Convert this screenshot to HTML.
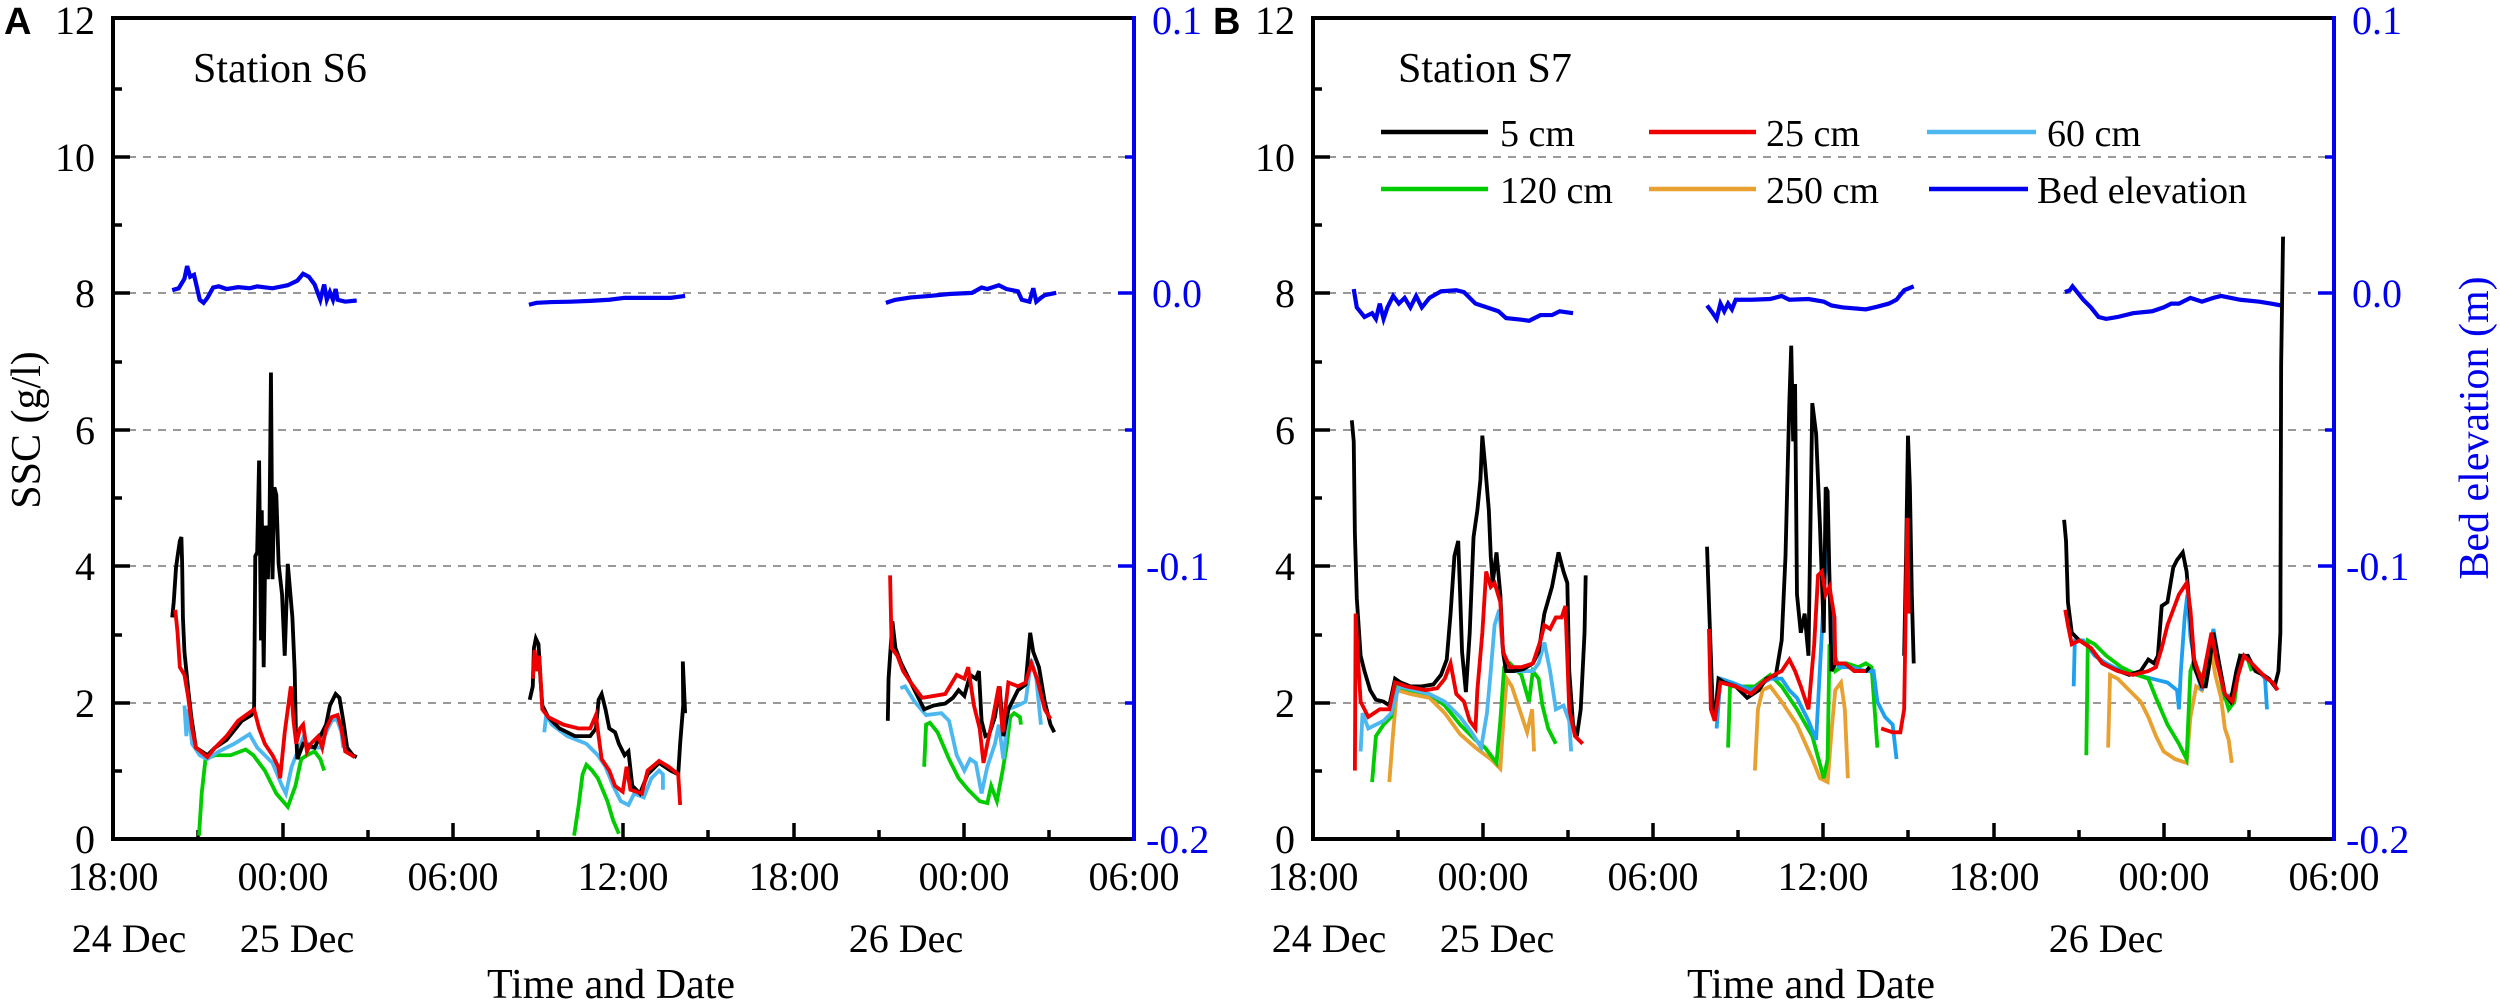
<!DOCTYPE html>
<html><head><meta charset="utf-8"><style>
html,body{margin:0;padding:0;background:#fff;}
svg{display:block;}
svg text{font-family:"Liberation Serif",serif !important;}
svg text.sans{font-family:"Liberation Sans",sans-serif !important;}
</style></head><body>
<svg width="2500" height="1001" viewBox="0 0 2500 1001" xmlns="http://www.w3.org/2000/svg" font-family="Liberation Serif, serif">
<defs>
<g id="frameTicks">
 <g stroke="#999" stroke-width="2" stroke-dasharray="8,7">
  <line x1="113" y1="157" x2="1134" y2="157"/>
  <line x1="113" y1="293" x2="1134" y2="293"/>
  <line x1="113" y1="430" x2="1134" y2="430"/>
  <line x1="113" y1="566" x2="1134" y2="566"/>
  <line x1="113" y1="703" x2="1134" y2="703"/>
 </g>
 <g stroke="#000" stroke-width="3.5">
  <line x1="113" y1="157" x2="130" y2="157"/><line x1="113" y1="293" x2="130" y2="293"/>
  <line x1="113" y1="430" x2="130" y2="430"/><line x1="113" y1="566" x2="130" y2="566"/>
  <line x1="113" y1="703" x2="130" y2="703"/>
  <line x1="113" y1="89" x2="122" y2="89"/><line x1="113" y1="225" x2="122" y2="225"/>
  <line x1="113" y1="362" x2="122" y2="362"/><line x1="113" y1="498" x2="122" y2="498"/>
  <line x1="113" y1="635" x2="122" y2="635"/><line x1="113" y1="771" x2="122" y2="771"/>
  <line x1="283" y1="839" x2="283" y2="823"/><line x1="453" y1="839" x2="453" y2="823"/>
  <line x1="623" y1="839" x2="623" y2="823"/><line x1="794" y1="839" x2="794" y2="823"/>
  <line x1="964" y1="839" x2="964" y2="823"/>
  <line x1="198" y1="839" x2="198" y2="830"/><line x1="368" y1="839" x2="368" y2="830"/>
  <line x1="538" y1="839" x2="538" y2="830"/><line x1="708" y1="839" x2="708" y2="830"/>
  <line x1="879" y1="839" x2="879" y2="830"/><line x1="1049" y1="839" x2="1049" y2="830"/>
 </g>
 <g stroke="#0000ee" stroke-width="3.5">
  <line x1="1134" y1="293" x2="1118" y2="293"/><line x1="1134" y1="566" x2="1118" y2="566"/>
  <line x1="1134" y1="157" x2="1125" y2="157"/><line x1="1134" y1="430" x2="1125" y2="430"/><line x1="1134" y1="703" x2="1125" y2="703"/>
 </g>
 <line x1="111" y1="18" x2="1134" y2="18" stroke="#000" stroke-width="4"/>
 <line x1="113" y1="16" x2="113" y2="841" stroke="#000" stroke-width="4"/>
 <line x1="111" y1="839" x2="1134" y2="839" stroke="#000" stroke-width="4"/>
 <line x1="1134" y1="16" x2="1134" y2="841" stroke="#0000ee" stroke-width="4"/>
 <g font-size="40" text-anchor="end" fill="#000" font-family="Liberation Serif, serif">
  <text x="95" y="34">12</text><text x="95" y="171">10</text><text x="95" y="307">8</text>
  <text x="95" y="444">6</text><text x="95" y="580">4</text><text x="95" y="717">2</text><text x="95" y="853">0</text>
 </g>
 <g font-size="40" fill="#0000ee" font-family="Liberation Serif, serif">
  <text x="1152" y="34">0.1</text><text x="1152" y="307">0.0</text>
  <text x="1146" y="580">-0.1</text><text x="1146" y="853">-0.2</text>
 </g>
 <g font-size="40" text-anchor="middle" fill="#000" font-family="Liberation Serif, serif">
  <text x="113" y="890">18:00</text><text x="283" y="890">00:00</text><text x="453" y="890">06:00</text>
  <text x="623" y="890">12:00</text><text x="794" y="890">18:00</text><text x="964" y="890">00:00</text>
  <text x="1134" y="890">06:00</text>
  <text x="129" y="952">24 Dec</text><text x="297" y="952">25 Dec</text><text x="906" y="952">26 Dec</text>
  <text x="611" y="998" font-size="42">Time and Date</text>
 </g>
</g>
</defs>

<use href="#frameTicks"/>
<text class="sans" x="4" y="34" font-family="Liberation Sans, sans-serif" font-weight="bold" font-size="38">A</text>
<text x="193" y="82" font-size="42" font-family="Liberation Serif, serif">Station S6</text>
<text transform="translate(40,430) rotate(-90)" font-size="42" text-anchor="middle" font-family="Liberation Serif, serif">SSC (g/l)</text>

<g fill="none" stroke-linejoin="miter" transform="translate(150,250) scale(0.38277)">
 <polyline stroke="#0000ee" stroke-width="11" points="58,105 75,100 90,75 97,42 105,70 115,65 122,95 130,130 140,138 150,125 165,98 180,95 200,102 230,97 260,100 280,95 320,100 360,92 385,80 400,62 415,70 430,90 445,130 455,90 462,130 470,110 478,130 485,102 490,130 510,135 540,132"/>
 <polyline stroke="#0000ee" stroke-width="11" points="990,143 1010,138 1050,136 1100,135 1150,133 1200,130 1240,125 1300,125 1360,125 1398,120"/>
 <polyline stroke="#00cc00" stroke-width="10" points="128,1530 135,1420 145,1330 170,1320 210,1320 250,1305 270,1320 300,1360 330,1420 360,1455 380,1400 395,1330 410,1320 430,1310 445,1330 455,1360"/>
 <polyline stroke="#00cc00" stroke-width="10" points="1108,1530 1120,1450 1130,1370 1140,1345 1155,1360 1170,1380 1195,1440 1210,1490 1225,1525"/>
 <polyline stroke="#4db8f0" stroke-width="10" points="90,1190 95,1270 100,1200 110,1290 130,1320 150,1330 180,1310 220,1290 260,1265 280,1300 320,1340 345,1400 355,1420 370,1350 390,1300 400,1275 420,1300 445,1300 460,1260 475,1230 488,1225 500,1260 505,1300"/>
 <polyline stroke="#4db8f0" stroke-width="10" points="1030,1260 1035,1215 1050,1240 1090,1270 1140,1290 1170,1320 1190,1350 1210,1400 1230,1440 1250,1450 1265,1420 1290,1430 1310,1380 1330,1360 1340,1370 1340,1410"/>
 <polyline stroke="#000" stroke-width="10" points="58,960 62,920 68,830 72,800 78,760 82,750 84,820 86,960 90,1050 100,1150 108,1220 120,1300 150,1320 170,1300 200,1280 240,1230 265,1215 272,1195 275,800 280,790 285,550 290,1020 292,680 297,1090 302,720 308,860 312,740 316,320 320,860 325,620 330,640 336,820 345,900 352,1060 360,820 372,960 378,1100 381,1250 385,1330 400,1290 430,1300 460,1240 470,1190 485,1160 495,1170 505,1230 515,1300 530,1320 540,1325"/>
 <polyline stroke="#000" stroke-width="10" points="992,1175 1000,1140 1003,1040 1008,1015 1015,1030 1020,1120 1025,1190 1040,1220 1070,1250 1110,1270 1150,1270 1165,1250 1172,1175 1180,1160 1190,1200 1200,1250 1215,1260 1225,1290 1240,1320 1250,1310 1260,1400 1280,1420 1300,1370 1330,1340 1360,1360 1380,1370 1385,1290 1393,1190 1392,1075 1398,1210"/>
 <polyline stroke="#ee0000" stroke-width="10" points="66,940 72,1000 78,1090 90,1110 100,1170 110,1250 120,1300 150,1325 170,1300 200,1270 230,1230 265,1205 272,1200 285,1250 300,1290 320,1320 335,1350 340,1380 352,1260 368,1140 375,1230 382,1290 392,1250 400,1240 410,1310 420,1290 440,1270 450,1300 460,1250 475,1220 490,1215 500,1250 510,1310 535,1325"/>
 <polyline stroke="#ee0000" stroke-width="10" points="1000,1120 1005,1045 1010,1100 1017,1060 1025,1200 1040,1220 1080,1240 1120,1250 1150,1250 1165,1215 1172,1270 1180,1330 1200,1360 1215,1400 1235,1415 1245,1350 1255,1410 1285,1420 1300,1360 1330,1335 1355,1350 1380,1370 1385,1450"/>
</g>
<g fill="none" stroke-linejoin="miter" transform="translate(750,250) scale(0.38277)">
 <polyline stroke="#0000ee" stroke-width="11" points="355,138 380,130 420,124 470,120 520,115 580,112 605,98 620,102 650,92 670,102 700,108 710,130 730,135 740,100 748,135 760,125 770,118 800,112"/>
 <polyline stroke="#00cc00" stroke-width="10" points="455,1350 460,1240 470,1235 490,1260 520,1330 545,1380 570,1410 600,1440 620,1445 630,1400 645,1440 660,1360 670,1300 680,1220 690,1210 705,1220 708,1240"/>
 <polyline stroke="#4db8f0" stroke-width="10" points="393,1145 405,1140 430,1180 460,1215 500,1210 520,1230 540,1320 560,1360 575,1330 590,1340 605,1420 620,1350 640,1290 650,1240 662,1330 675,1200 700,1190 720,1180 735,1070 748,1120 760,1240"/>
 <polyline stroke="#000" stroke-width="10" points="360,1230 362,1120 372,970 380,1040 395,1080 410,1110 430,1150 455,1200 480,1190 510,1185 530,1170 545,1150 560,1165 575,1110 590,1120 598,1100 605,1230 615,1270 625,1265 640,1220 652,1140 662,1270 675,1200 700,1150 720,1135 732,1000 740,1050 755,1090 770,1180 785,1240 795,1260"/>
 <polyline stroke="#ee0000" stroke-width="10" points="366,850 370,1040 385,1060 400,1100 420,1130 450,1170 480,1165 510,1160 540,1110 560,1120 570,1090 585,1190 600,1250 610,1340 620,1290 635,1220 650,1140 660,1260 675,1130 700,1140 720,1130 735,1080 750,1120 770,1200 785,1225"/>
</g>

<use href="#frameTicks" transform="translate(1200,0)"/>
<text class="sans" x="1213" y="34" font-family="Liberation Sans, sans-serif" font-weight="bold" font-size="38">B</text>
<text x="1398" y="82" font-size="42" font-family="Liberation Serif, serif">Station S7</text>
<text transform="translate(2488,428) rotate(-90)" font-size="42" text-anchor="middle" fill="#0000ee" font-family="Liberation Serif, serif">Bed elevation (m)</text>
<g stroke-width="4.5">
 <line x1="1381" y1="132" x2="1488" y2="132" stroke="#000"/>
 <line x1="1649" y1="132" x2="1756" y2="132" stroke="#ee0000"/>
 <line x1="1927" y1="132" x2="2036" y2="132" stroke="#4db8f0"/>
 <line x1="1381" y1="189" x2="1488" y2="189" stroke="#00cc00"/>
 <line x1="1649" y1="189" x2="1756" y2="189" stroke="#e8a030"/>
 <line x1="1929" y1="189" x2="2028" y2="189" stroke="#0000ee"/>
</g>
<g font-size="38" fill="#000" font-family="Liberation Serif, serif">
 <text x="1500" y="146">5 cm</text><text x="1766" y="146">25 cm</text><text x="2047" y="146">60 cm</text>
 <text x="1500" y="203">120 cm</text><text x="1766" y="203">250 cm</text><text x="2037" y="203">Bed elevation</text>
</g>

<g fill="none" stroke-linejoin="miter" transform="translate(1330,250) scale(0.38277)">
 <polyline stroke="#0000ee" stroke-width="11" points="62,102 70,150 90,175 110,165 120,180 130,140 140,180 150,150 165,120 180,140 195,125 210,150 225,120 240,150 260,125 290,108 330,105 350,110 380,140 410,150 440,160 460,178 500,182 520,185 550,170 580,170 600,160 635,165"/>
 <polyline stroke="#0000ee" stroke-width="11" points="985,145 1000,165 1010,180 1020,140 1030,160 1040,140 1050,155 1060,130 1100,130 1150,128 1180,120 1200,130 1250,128 1290,135 1310,145 1340,150 1400,155 1430,148 1460,140 1480,130 1500,105 1525,95"/>
 <polyline stroke="#e8a030" stroke-width="10" points="155,1390 165,1260 175,1150 210,1160 260,1170 300,1210 340,1265 380,1300 420,1330 445,1355 455,1200 462,1120 475,1140 495,1200 515,1260 528,1200 533,1310"/>
 <polyline stroke="#e8a030" stroke-width="10" points="1110,1360 1118,1200 1130,1150 1150,1140 1180,1180 1220,1240 1260,1330 1280,1380 1300,1390 1310,1260 1320,1150 1335,1130 1345,1200 1353,1380"/>
 <polyline stroke="#00cc00" stroke-width="10" points="110,1390 120,1270 140,1240 160,1220 175,1140 210,1150 260,1160 300,1190 340,1240 380,1280 405,1300 435,1340 445,1230 455,1090 470,1080 500,1110 520,1180 530,1100 545,1120 555,1190 570,1250 590,1290"/>
 <polyline stroke="#00cc00" stroke-width="10" points="1040,1300 1045,1140 1080,1140 1110,1140 1150,1110 1180,1140 1220,1200 1260,1270 1290,1380 1300,1330 1305,1030 1320,1100 1350,1080 1380,1090 1400,1080 1415,1090 1430,1300"/>
 <polyline stroke="#4db8f0" stroke-width="10" points="80,1310 85,1210 100,1250 120,1240 140,1230 160,1210 180,1140 220,1150 260,1160 300,1180 340,1220 370,1260 395,1300 410,1210 420,1100 430,980 442,940 450,1030 462,1090 480,1100 505,1100 530,1100 545,1080 560,1025 575,1100 590,1200 610,1190 625,1230 630,1310"/>
 <polyline stroke="#1ea0f0" stroke-width="10" points="1010,1250 1020,1120 1050,1130 1100,1150 1150,1120 1180,1120 1200,1150 1220,1170 1250,1230 1270,1280 1285,1000 1298,750 1305,860 1315,1050 1330,1090 1360,1090 1400,1100 1420,1100 1430,1180 1450,1220 1470,1240 1480,1330"/>
 <polyline stroke="#000" stroke-width="10" points="57,445 62,500 65,740 70,910 80,1060 90,1100 105,1150 120,1175 140,1180 155,1190 170,1120 185,1130 210,1140 240,1140 270,1135 290,1110 305,1070 315,950 325,800 335,760 340,900 345,1050 355,1155 365,1000 375,750 385,680 393,600 398,485 405,560 415,680 420,800 425,870 435,790 445,900 452,1050 460,1100 480,1100 505,1095 530,1080 545,1050 560,950 580,880 597,790 610,840 620,870 625,1100 635,1240 645,1270 655,1200 665,1000 668,850"/>
 <polyline stroke="#ee0000" stroke-width="10" points="65,1360 67,950 72,1050 80,1180 100,1220 130,1200 155,1200 170,1130 200,1140 250,1150 280,1145 300,1120 315,1080 330,1160 350,1180 365,1230 380,1250 385,1150 398,1000 408,840 420,880 430,870 445,920 452,1050 470,1090 500,1090 530,1080 550,1020 560,980 575,990 590,960 605,960 615,930 625,1200 640,1270 660,1290"/>
 <polyline stroke="#000" stroke-width="10" points="985,775 990,920 1000,1200 1005,1230 1015,1120 1030,1130 1060,1140 1090,1170 1120,1150 1140,1120 1165,1110 1180,1020 1190,800 1200,400 1205,250 1210,500 1215,350 1220,900 1230,1000 1240,950 1250,1060 1260,400 1270,480 1280,720 1290,1000 1295,620 1300,630 1310,1100 1320,1080 1345,1080 1370,1100 1400,1100 1410,1090"/>
 <polyline stroke="#ee0000" stroke-width="10" points="990,990 995,1200 1005,1230 1020,1130 1060,1140 1100,1160 1130,1130 1160,1110 1180,1100 1200,1070 1215,1100 1230,1140 1250,1200 1265,1030 1275,850 1285,840 1295,900 1305,880 1318,960 1320,1080 1345,1080 1370,1100 1400,1100"/>
 <polyline stroke="#000" stroke-width="10" points="1500,1060 1505,800 1510,485 1515,620 1520,900 1525,1080"/>
 <polyline stroke="#ee0000" stroke-width="10" points="1440,1250 1470,1260 1490,1260 1500,1200 1508,700 1512,950"/>
</g>
<g fill="none" stroke-linejoin="miter" transform="translate(1800,250) scale(0.38277)">
 <polyline stroke="#0000ee" stroke-width="11" points="692,110 705,105 712,95 720,105 740,130 760,150 780,175 800,180 830,175 870,165 920,160 950,150 970,140 990,140 1020,125 1050,135 1080,125 1100,120 1150,130 1200,135 1230,140 1258,145"/>
 <polyline stroke="#e8a030" stroke-width="10" points="805,1300 810,1110 830,1120 860,1150 890,1180 910,1220 930,1270 950,1310 980,1330 1010,1340 1020,1220 1035,1140 1050,1150 1065,1100 1075,1050 1085,1110 1100,1170 1110,1250 1120,1280 1128,1340"/>
 <polyline stroke="#1ea0f0" stroke-width="10" points="715,1140 718,1020 740,1020 770,1060 800,1080 840,1100 880,1110 920,1120 960,1130 985,1150 990,1200 995,1100 1005,960 1012,900 1020,1010 1035,1100 1050,1150 1065,1080 1080,990 1095,1080 1110,1170 1130,1160 1145,1100 1160,1060 1180,1080 1200,1100 1215,1120 1220,1200"/>
 <polyline stroke="#00cc00" stroke-width="10" points="748,1320 752,1020 770,1030 800,1060 840,1090 880,1110 910,1120 930,1170 960,1240 990,1290 1010,1330 1020,1100 1030,1070 1040,1100 1055,1120 1070,1040 1080,1000 1090,1070 1105,1150 1120,1200 1135,1180 1150,1060 1170,1070 1180,1100"/>
 <polyline stroke="#000" stroke-width="10" points="690,705 695,760 700,920 710,1000 730,1020 760,1040 790,1080 820,1095 860,1110 890,1100 910,1070 925,1080 935,1060 945,930 960,920 975,830 985,810 1000,790 1010,840 1020,960 1030,1090 1050,1140 1060,1140 1070,1080 1080,1000 1095,1080 1110,1160 1125,1180 1140,1100 1150,1060 1170,1060 1190,1100 1210,1110 1225,1120 1240,1140 1250,1100 1255,1000 1257,300 1262,-35"/>
 <polyline stroke="#ee0000" stroke-width="10" points="693,940 700,980 710,1030 730,1020 760,1040 790,1080 830,1100 870,1110 910,1100 930,1090 945,1040 960,980 990,900 1010,870 1020,940 1030,1070 1050,1130 1075,1000 1090,1080 1110,1160 1130,1180 1145,1110 1160,1060 1180,1080 1200,1100 1220,1120 1235,1130 1248,1150"/>
</g>
</svg>
</body></html>
